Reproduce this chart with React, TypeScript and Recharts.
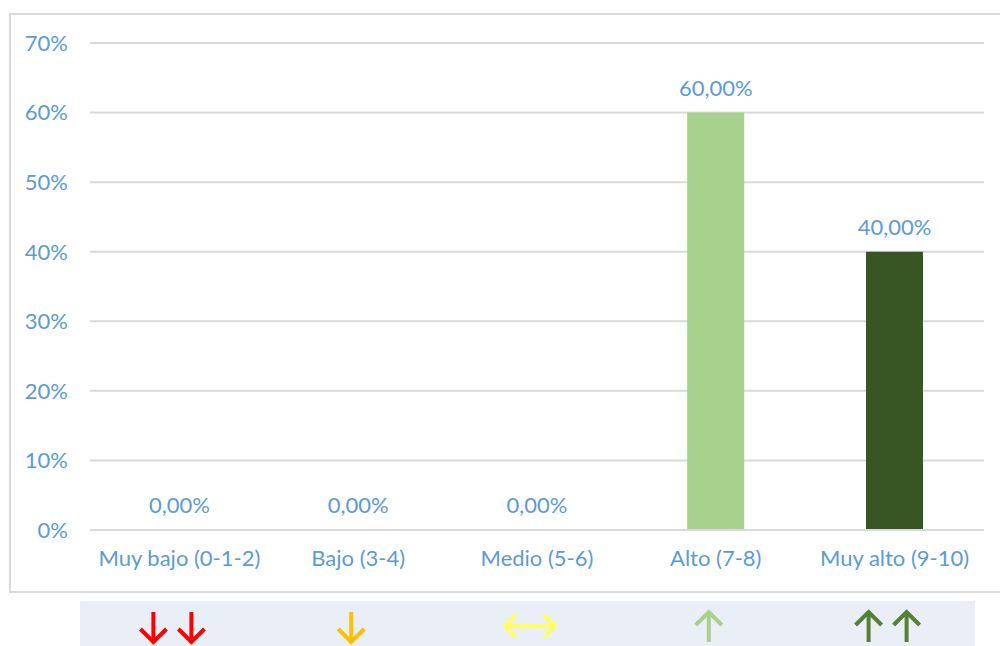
import React from 'react';
import { ComposedChart, Bar, Line, XAxis, YAxis, CartesianGrid, Cell, LabelList } from 'recharts';

const categories = ['Muy bajo (0-1-2)', 'Bajo (3-4)', 'Medio (5-6)', 'Alto (7-8)', 'Muy alto (9-10)'];
const shares = [0, 0, 0, 0.6, 0.4];
const barColors = ['#A9D18E', '#A9D18E', '#A9D18E', '#A9D18E', '#375623'];
const yTicks = [0, 0.1, 0.2, 0.3, 0.4, 0.5, 0.6, 0.7];

// arrow row under the chart
const arrowDirs = ['down', 'down', 'both', 'up', 'up'];
const arrowCounts = [2, 1, 1, 1, 2];
const arrowColors = ['#FF0000', '#FFC000', '#FFFF66', '#A9D18E', '#548235'];

const data = categories.map((name, i) => ({ name, value: shares[i] }));

const FONT = 'Lato, "Open Sans", sans-serif';
const TEXT = '#5B9BD5';
const FS = 22;

const pct = (v: number) => `${Math.round(v * 100)}%`;
const pct2 = (v: number) => `${(v * 100).toFixed(2).replace('.', ',')}%`;

const ArrowTick = (props: any) => {
  const { x, y, payload } = props;
  const i = categories.indexOf(payload.value);
  const dir = arrowDirs[i];
  const n = arrowCounts[i];
  const color = arrowColors[i];
  const top = y + 34;
  const h = 30;
  const cx0 = x - 7;
  const gap = 38;
  const items: React.ReactNode[] = [];
  for (let k = 0; k < n; k++) {
    const cx = cx0 + (k - (n - 1) / 2) * gap;
    let d = '';
    if (dir === 'down') {
      d = `M${cx},${top} L${cx},${top + h} M${cx - 13},${top + h - 13} L${cx},${top + h} L${cx + 13},${top + h - 13}`;
    } else if (dir === 'up') {
      d = `M${cx},${top + h} L${cx},${top} M${cx - 13},${top + 13} L${cx},${top} L${cx + 13},${top + 13}`;
    } else {
      const cy = top + 14;
      d = `M${cx - 25},${cy} L${cx + 25},${cy} M${cx - 14},${cy - 11} L${cx - 25},${cy} L${cx - 14},${cy + 11} M${cx + 14},${cy - 11} L${cx + 25},${cy} L${cx + 14},${cy + 11}`;
    }
    items.push(<path key={k} d={d} stroke={color} strokeWidth={4} fill="none" />);
  }
  return <g>{items}</g>;
};

export default function App() {
  return (
    <div style={{ position: 'fixed', left: 0, top: 0, width: 1000, height: 646, overflow: 'hidden', background: '#fff' }}>
      <div style={{ position: 'absolute', left: 9, top: 13, width: 1010, height: 580, border: '2px solid #D9D9D9', boxSizing: 'border-box' }} />
      <div style={{ position: 'absolute', left: 80, top: 601, width: 895, height: 45, background: '#E9EEF7' }} />
      <div style={{ position: 'absolute', left: 0, top: 0 }}>
        <ComposedChart
          width={1000}
          height={646}
          data={data}
          margin={{ top: 43, right: 16, bottom: 0, left: 10 }}
          barCategoryGap="34%"
        >
          <CartesianGrid vertical={false} stroke="#D9D9D9" strokeWidth={2} />
          <XAxis
            dataKey="name"
            height={40}
            axisLine={{ stroke: '#D9D9D9', strokeWidth: 2 }}
            tickLine={false}
            tickSize={0}
            tickMargin={20}
            interval={0}
            tick={{ fill: TEXT, fontSize: FS, fontFamily: FONT }}
          />
          <XAxis
            xAxisId="arrows"
            dataKey="name"
            height={76}
            axisLine={false}
            tickLine={false}
            interval={0}
            tick={<ArrowTick />}
          />
          <YAxis
            width={80}
            domain={[0, 0.7]}
            ticks={yTicks}
            tickFormatter={pct}
            axisLine={false}
            tickLine={false}
            tickSize={0}
            tickMargin={22}
            tick={{ fill: TEXT, fontSize: FS, fontFamily: FONT }}
          />
          <Bar dataKey="value" isAnimationActive={false}>
            {data.map((d, i) => (
              <Cell key={d.name} fill={barColors[i]} />
            ))}
          </Bar>
          <Line
            dataKey="value"
            stroke="none"
            dot={false}
            activeDot={false}
            legendType="none"
            isAnimationActive={false}
          >
            <LabelList
              dataKey="value"
              position="top"
              offset={17}
              formatter={pct2}
              style={{ fill: TEXT, fontSize: FS, fontFamily: FONT }}
            />
          </Line>
        </ComposedChart>
      </div>
    </div>
  );
}
